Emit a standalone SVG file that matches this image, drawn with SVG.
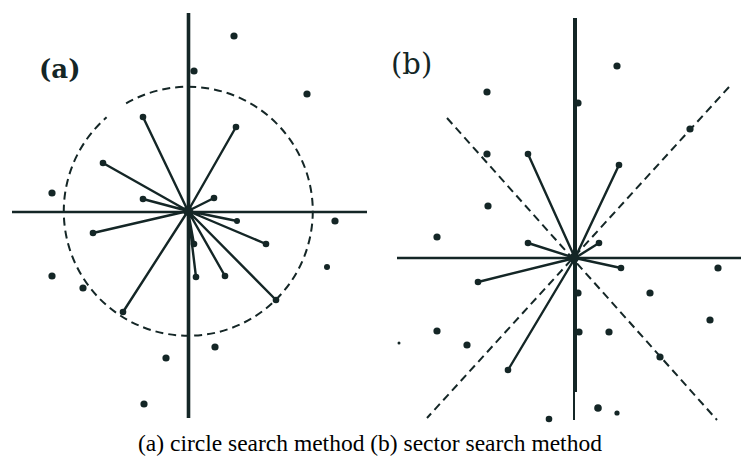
<svg xmlns="http://www.w3.org/2000/svg" width="741" height="458" viewBox="0 0 741 458">
<defs>
<style>
.ax{stroke:#142626;fill:none;stroke-linecap:butt}
.sp{stroke:#142626;stroke-width:2.4;fill:none;stroke-linecap:round}
.ds{stroke:#142626;stroke-width:2;fill:none;stroke-dasharray:8 5}
.dt{fill:#142626}
.lbl{fill:#142626}
.cap{font-family:"Liberation Serif","Times New Roman",serif;font-size:23.5px;fill:#000}
</style>
</defs>
<rect width="741" height="458" fill="#ffffff"/>
<g id="panel-a">
<text class="lbl" x="39" y="78" font-family="DejaVu Serif, serif" font-size="26" font-weight="bold">(a)</text>
<path class="ds" d="M126.1 103.4 A124.5 124.5 0 1 1 106.6 117.3"/>
<line class="ax" x1="188.5" y1="13" x2="188.5" y2="418" stroke-width="3.6"/>
<line class="ax" x1="12" y1="212" x2="367" y2="212" stroke-width="2.4"/>
<g id="spokes-a">
<path class="sp" d="M188 211L143 117M188 211L236 127M188 211L103 163M188 211L143 199M188 211L214 198M188 211L237 221M188 211L93 233M188 211L266 244M188 211L194 244M188 211L196 277M188 211L225 276M188 211L276 300M188 211L123 312"/>
</g>
<g id="dots-a" class="dt">
<circle cx="188" cy="211" r="5"/>
<circle cx="143" cy="117" r="3.3"/><circle cx="236" cy="127" r="3.3"/><circle cx="103" cy="163" r="3.3"/>
<circle cx="143" cy="199" r="3.3"/><circle cx="214" cy="198" r="3.3"/><circle cx="237" cy="221" r="3"/>
<circle cx="93" cy="233" r="3.3"/><circle cx="266" cy="244" r="3.3"/><circle cx="194" cy="244" r="3.3"/>
<circle cx="196" cy="277" r="3.3"/><circle cx="225" cy="276" r="3.3"/><circle cx="276" cy="300" r="3.3"/>
<circle cx="123" cy="312" r="3.3"/>
<circle cx="234" cy="36" r="3.6"/><circle cx="194" cy="71" r="3.6"/><circle cx="307" cy="94" r="3.6"/>
<circle cx="52" cy="193" r="3.6"/><circle cx="335" cy="221" r="3.6"/><circle cx="327" cy="267" r="3"/>
<circle cx="52" cy="276" r="3.6"/><circle cx="83" cy="288" r="3.6"/><circle cx="215" cy="347" r="3.6"/>
<circle cx="166" cy="358" r="3.6"/><circle cx="144" cy="404" r="3.6"/>
</g>
</g>
<g id="panel-b">
<text class="lbl" x="391" y="74" font-family="DejaVu Serif, serif" font-size="29">(b)</text>
<g id="sector-lines">
<line class="ds" x1="447" y1="118" x2="717" y2="420"/>
<line class="ds" x1="729" y1="87" x2="427" y2="418"/>
</g>
<line class="ax" x1="575" y1="18" x2="575" y2="392" stroke-width="4"/>
<line class="ax" x1="574" y1="392" x2="574" y2="420" stroke-width="2"/>
<line class="ax" x1="397" y1="258" x2="741" y2="258" stroke-width="2.4"/>
<g id="spokes-b">
<path class="sp" d="M575 258L528 154M575 258L619 165M575 258L528 243M575 258L599 243M575 258L621 268M575 258L478 282M575 258L508 370"/>
</g>
<g id="dots-b" class="dt">
<circle cx="574" cy="258" r="5"/>
<circle cx="528" cy="154" r="3.3"/><circle cx="619" cy="165" r="3.3"/><circle cx="528" cy="243" r="3.3"/>
<circle cx="599" cy="243" r="3.3"/><circle cx="621" cy="268" r="3.3"/><circle cx="478" cy="282" r="3.3"/>
<circle cx="508" cy="370" r="3.3"/>
<circle cx="617" cy="66" r="3.6"/><circle cx="487" cy="92" r="3.6"/><circle cx="578" cy="103" r="3.6"/>
<circle cx="690" cy="129" r="3.6"/><circle cx="487" cy="154" r="3.6"/><circle cx="488" cy="206" r="3.6"/>
<circle cx="437" cy="237" r="3.6"/><circle cx="718" cy="268" r="3.6"/><circle cx="650" cy="293" r="3.6"/>
<circle cx="578" cy="293" r="3.6"/><circle cx="710" cy="320" r="3.6"/><circle cx="437" cy="331" r="3.6"/>
<circle cx="579" cy="332" r="3.6"/><circle cx="609" cy="332" r="3.6"/><circle cx="467" cy="345" r="3.6"/>
<circle cx="660" cy="357" r="3.6"/><circle cx="399" cy="343" r="1.5"/><circle cx="598" cy="408" r="3.8"/>
<circle cx="617" cy="413" r="2.6"/><circle cx="549" cy="419" r="3.3"/>
</g>
</g>
<text id="caption" class="cap" x="138" y="451">(a) circle search method (b) sector search method</text>
</svg>
